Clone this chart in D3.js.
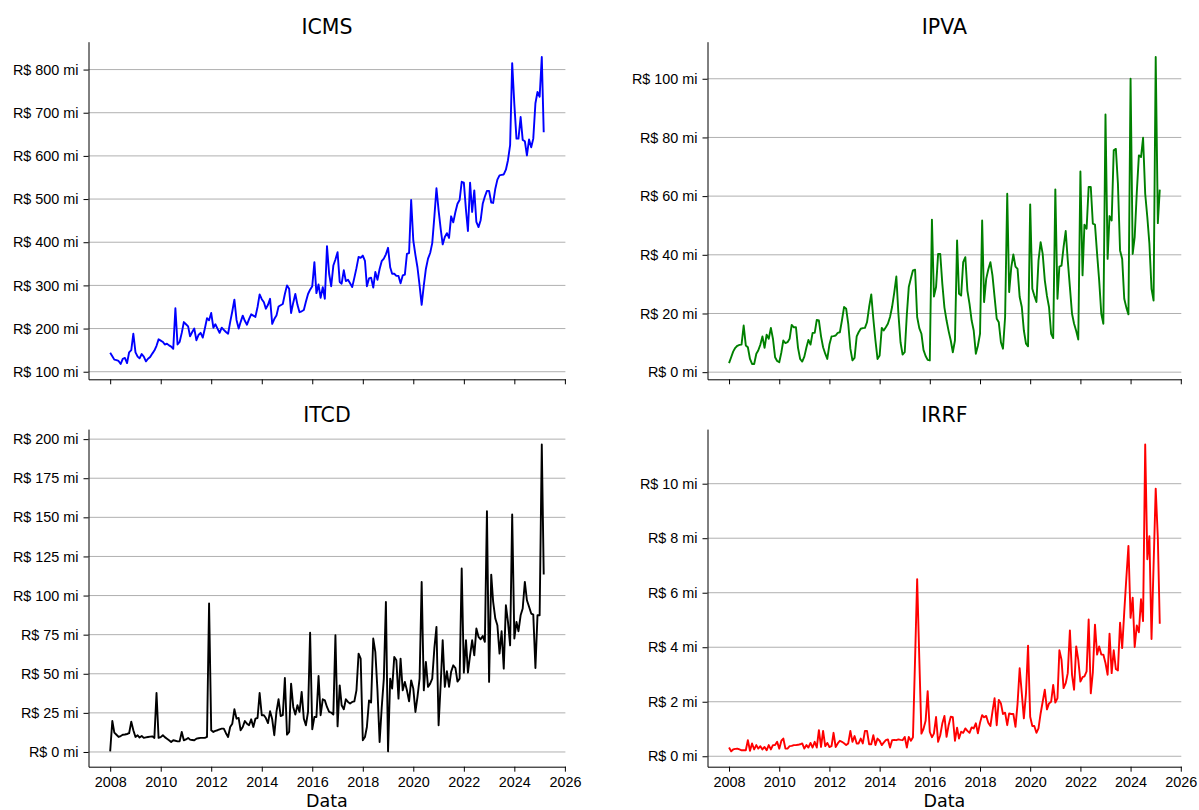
<!DOCTYPE html>
<html>
<head>
<meta charset="utf-8">
<title>Arrecadação mensal</title>
<script src="https://cdn.jsdelivr.net/npm/d3@7"></script>
<style>
    body { margin: 0; background: #fff; }
    svg { display: block; font-family: "DejaVu Sans", sans-serif; }
</style>
</head>
<body>
<div id="chart"></div>
<script>
// Monthly revenue in R$ millions, one value per month from Jan 2008 to Mar 2025
const firstMonth = new Date(2008, 0, 1);

const icms = [
    144, 136, 128, 127, 125, 118, 130, 132, 120, 145, 150, 188,
    145, 135, 131, 141, 135, 124, 130, 134, 142, 149, 160, 175,
    172, 169, 163, 165, 161, 158, 153, 247, 163, 169, 190, 215,
    210, 205, 182, 192, 200, 173, 185, 190, 179, 200, 224, 219,
    236, 202, 210, 200, 190, 202, 197, 192, 188, 215, 240, 267,
    220, 200, 215, 230, 218, 209, 222, 233, 230, 227, 250, 279,
    268, 261, 246, 255, 269, 211, 222, 230, 251, 254, 257, 280,
    300, 292, 236, 260, 280, 255, 238, 240, 243, 262, 280, 290,
    298, 354, 282, 302, 271, 296, 269, 391, 327, 298, 346, 360,
    377, 308, 304, 335, 310, 313, 305, 296, 318, 340, 366, 364,
    369, 357, 298, 316, 318, 295, 331, 313, 338, 356, 362, 372,
    387, 342, 327, 327, 322, 322, 305, 323, 325, 373, 375, 498,
    404, 370, 342, 300, 255, 300, 338, 362, 375, 398, 460, 525,
    474, 430, 395, 412, 421, 410, 460, 446, 470, 489, 498, 540,
    538, 474, 426, 538, 470, 520, 447, 435, 451, 489, 506, 519,
    519, 492, 491, 524, 545, 555, 556, 557, 568, 590, 625, 815,
    720, 640, 640, 690, 637, 634, 601, 638, 620, 640, 722, 748,
    737, 829, 655
];

const ipva = [
    3.1, 5.1, 7.0, 8.3, 9.0, 9.3, 9.4, 15.9, 9.1, 8.5, 4.5, 2.8,
    2.8, 6.3, 7.4, 9.4, 12.2, 8.3, 12.8, 11.4, 15.1, 11.4, 5.1, 3.8,
    3.4, 6.8, 10.8, 9.9, 10.2, 11.4, 16.1, 15.3, 15.3, 8.3, 4.5, 3.6,
    5.3, 8.5, 11.0, 9.4, 13.4, 13.4, 17.8, 17.6, 12.2, 8.5, 6.3, 4.5,
    9.4, 12.2, 12.3, 12.5, 13.4, 13.6, 17.6, 22.2, 21.6, 16.5, 8.0, 4.0,
    4.9, 12.2, 13.6, 14.8, 15.0, 15.1, 17.0, 22.2, 26.5, 18.2, 10.8, 4.5,
    5.7, 15.1, 14.2, 15.3, 16.5, 18.8, 22.2, 27.0, 32.6, 19.9, 10.2, 6.0,
    6.8, 19.7, 29.0, 32.0, 34.7, 34.9, 18.8, 15.0, 13.1, 7.6, 5.5, 4.2,
    4.0, 52.0, 25.8, 29.0, 40.3, 40.3, 30.2, 22.0, 17.6, 14.0, 10.8, 6.8,
    10.8, 44.9, 26.7, 26.1, 37.5, 39.2, 27.8, 23.3, 17.6, 14.2, 6.3, 9.0,
    13.1, 51.7, 23.9, 31.8, 35.0, 37.5, 33.0, 25.6, 18.2, 17.0, 10.2, 8.0,
    18.8, 60.8, 27.3, 35.8, 40.1, 36.0, 35.2, 25.6, 22.2, 14.2, 9.7, 8.8,
    57.2, 28.4, 26.1, 23.9, 38.0, 44.3, 40.3, 31.3, 26.0, 22.2, 13.1, 11.6,
    62.3, 25.0, 36.0, 36.3, 42.6, 48.1, 38.1, 29.0, 19.9, 16.5, 14.0, 11.1,
    68.4, 33.0, 50.3, 48.9, 63.1, 63.1, 50.6, 50.3, 40.3, 31.3, 19.9, 16.5,
    87.8, 38.6, 53.2, 51.7, 75.6, 76.1, 64.2, 41.5, 38.6, 25.0, 22.0, 19.7,
    100.0, 40.3, 46.0, 61.4, 73.9, 73.3, 79.9, 60.8, 52.8, 43.8, 28.4, 24.4,
    107.4, 50.8, 62.2
];

const itcd = [
    0.4, 19.8, 12.4, 11.0, 9.6, 10.2, 11.0, 11.2, 11.5, 12.0, 19.4, 13.9,
    9.6, 10.7, 9.2, 10.2, 9.0, 9.3, 9.6, 9.8, 10.0, 9.0, 37.7, 9.0,
    9.5, 10.7, 9.5, 8.5, 7.5, 6.4, 7.5, 7.2, 6.8, 6.8, 12.8, 7.5,
    8.0, 9.0, 7.9, 7.7, 7.5, 8.5, 8.8, 9.0, 9.0, 9.0, 9.6, 94.9,
    13.9, 12.8, 13.5, 13.9, 14.5, 14.9, 14.9, 12.0, 9.6, 16.0, 18.1, 27.3,
    21.3, 21.7, 13.9, 16.0, 19.8, 18.1, 17.1, 20.9, 16.0, 21.3, 21.7, 37.7,
    23.5, 23.5, 21.7, 18.5, 26.0, 20.9, 10.7, 25.6, 33.7, 23.0, 23.5, 47.3,
    11.1, 12.8, 43.7, 28.8, 23.9, 29.9, 25.6, 38.4, 21.3, 17.1, 25.6, 76.3,
    14.5, 22.4, 22.4, 48.6, 23.5, 33.7, 33.0, 28.8, 25.6, 25.2, 23.9, 74.6,
    16.4, 42.6, 29.9, 27.3, 33.7, 32.0, 31.0, 32.0, 32.4, 39.4, 62.9, 59.7,
    7.5, 9.6, 16.0, 33.0, 31.6, 72.5, 64.0, 39.4, 6.4, 28.1, 46.9, 95.9,
    0.4, 46.9, 40.5, 60.8, 58.6, 34.1, 59.7, 39.4, 44.8, 39.4, 32.4, 45.8,
    40.5, 25.6, 35.0, 46.9, 108.7, 39.4, 57.6, 41.6, 43.7, 46.9, 66.5, 80.0,
    17.1, 44.3, 71.4, 41.6, 51.6, 41.6, 51.2, 55.4, 53.7, 45.0, 46.9, 117.3,
    50.7, 71.4, 50.7, 61.8, 71.4, 61.8, 78.9, 73.6, 72.0, 74.2, 70.4, 153.9,
    44.8, 113.4, 95.9, 85.3, 81.0, 62.9, 77.2, 53.3, 93.8, 83.2, 68.2, 151.8,
    72.5, 83.2, 77.2, 87.4, 91.7, 108.7, 97.0, 92.8, 88.5, 87.8, 53.7, 87.4,
    87.4, 196.6, 113.4
];

const irrf = [
    0.32, 0.18, 0.25, 0.27, 0.28, 0.25, 0.22, 0.22, 0.22, 0.59, 0.20, 0.47,
    0.25, 0.41, 0.28, 0.37, 0.25, 0.34, 0.22, 0.41, 0.25, 0.41, 0.41, 0.53,
    0.28, 0.57, 0.65, 0.28, 0.28, 0.37, 0.38, 0.41, 0.41, 0.42, 0.44, 0.47,
    0.28, 0.41, 0.32, 0.49, 0.32, 0.53, 0.32, 0.96, 0.34, 0.93, 0.37, 0.49,
    0.34, 0.37, 0.86, 0.34, 0.47, 0.57, 0.53, 0.48, 0.41, 0.47, 0.93, 0.53,
    0.74, 0.47, 0.47, 0.65, 0.47, 0.93, 0.93, 0.44, 0.44, 0.77, 0.41, 0.65,
    0.57, 0.41, 0.50, 0.59, 0.62, 0.32, 0.59, 0.60, 0.59, 0.62, 0.60, 0.59,
    0.71, 0.32, 0.71, 0.57, 0.70, 3.60, 6.50, 3.60, 0.83, 1.00, 1.30, 2.39,
    0.89, 0.70, 0.83, 1.44, 0.53, 0.77, 1.20, 1.48, 0.71, 1.14, 1.45, 1.43,
    0.57, 1.05, 0.65, 0.90, 0.86, 1.02, 0.93, 0.86, 1.06, 1.02, 1.21, 0.84,
    1.23, 1.51, 1.43, 1.48, 1.23, 1.11, 1.64, 2.13, 1.14, 2.07, 1.94, 1.55,
    1.60, 1.14, 1.57, 1.55, 1.55, 1.08, 1.92, 3.23, 2.31, 1.39, 2.31, 4.06,
    1.45, 1.11, 1.11, 0.86, 1.02, 1.57, 2.00, 2.44, 1.72, 1.94, 2.00, 2.62,
    1.97, 2.13, 3.89, 3.54, 2.50, 2.68, 3.05, 4.62, 2.99, 2.44, 4.03, 3.54,
    2.74, 2.90, 2.93, 3.11, 5.02, 2.31, 3.08, 4.83, 3.73, 4.03, 3.73, 3.73,
    3.42, 2.99, 4.50, 3.05, 3.89, 3.20, 3.15, 4.90, 3.97, 5.29, 6.56, 7.72,
    5.08, 5.82, 4.01, 4.80, 4.55, 5.76, 4.96, 11.44, 7.23, 8.07, 4.30, 7.00,
    9.82, 8.00, 4.86
];

// Tick values
const yearTicks = [2008, 2010, 2012, 2014, 2016, 2018, 2020, 2022, 2024, 2026];
const icmsTicks = [100, 200, 300, 400, 500, 600, 700, 800];
const ipvaTicks = [0, 20, 40, 60, 80, 100];
const itcdTicks = [0, 25, 50, 75, 100, 125, 150, 175, 200];
const irrfTicks = [0, 2, 4, 6, 8, 10];

const TaxChart = {
    svg: null,
    width: 1199,
    height: 810,
    months: null,
    tickFont: '14.4px',

    // One panel per tax, laid out as a 2x2 grid
    panels: [
        { title: 'ICMS', values: icms, ticks: icmsTicks, color: '#0000ff',
          box: { left: 88.5, right: 565.4, top: 41.7, bottom: 379.3 }, showYears: false },
        { title: 'IPVA', values: ipva, ticks: ipvaTicks, color: '#008000',
          box: { left: 707.5, right: 1181.3, top: 41.7, bottom: 379.3 }, showYears: false },
        { title: 'ITCD', values: itcd, ticks: itcdTicks, color: '#000000',
          box: { left: 88.5, right: 565.4, top: 429.1, bottom: 766.7 }, showYears: true },
        { title: 'IRRF', values: irrf, ticks: irrfTicks, color: '#ff0000',
          box: { left: 707.5, right: 1181.3, top: 429.1, bottom: 766.7 }, showYears: true }
    ],

    init(containerId) {
        this.svg = d3.select(`#${containerId}`).append('svg')
            .attr('width', this.width)
            .attr('height', this.height);

        this.svg.append('rect')
            .attr('width', this.width)
            .attr('height', this.height)
            .attr('fill', '#fff');

        this.months = d3.timeMonth.range(firstMonth, d3.timeMonth.offset(firstMonth, icms.length));

        this.panels.forEach(p => this.drawPanel(p));
    },

    // Pad a domain by 5% on both sides, like matplotlib's autoscale
    padded(extent) {
        const pad = (extent[1] - extent[0]) * 0.05;
        return [extent[0] - pad, extent[1] + pad];
    },

    drawPanel(p) {
        const b = p.box;
        const g = this.svg.append('g');

        const t = this.padded(d3.extent(this.months, d => +d));
        const xScale = d3.scaleTime()
            .domain([new Date(t[0]), new Date(t[1])])
            .range([b.left, b.right]);

        const yScale = d3.scaleLinear()
            .domain(this.padded(d3.extent(p.values)))
            .range([b.bottom, b.top]);

        // Horizontal grid
        g.append('g')
            .selectAll('line')
            .data(p.ticks)
            .join('line')
            .attr('x1', b.left)
            .attr('x2', b.right)
            .attr('y1', d => yScale(d))
            .attr('y2', d => yScale(d))
            .attr('stroke', '#b0b0b0')
            .attr('stroke-width', 1);

        // Series line
        const line = d3.line()
            .x((d, i) => xScale(this.months[i]))
            .y(d => yScale(d));

        g.append('path')
            .datum(p.values)
            .attr('d', line)
            .attr('fill', 'none')
            .attr('stroke', p.color)
            .attr('stroke-width', 1.9)
            .attr('stroke-linejoin', 'round');

        // Y axis
        const yAxis = d3.axisLeft(yScale)
            .tickValues(p.ticks)
            .tickFormat(d => `R$ ${d} mi`)
            .tickSizeInner(5)
            .tickSizeOuter(0)
            .tickPadding(5);

        g.append('g')
            .attr('transform', `translate(${b.left},0)`)
            .call(yAxis)
            .call(s => s.selectAll('text').attr('font-size', this.tickFont).attr('fill', '#000'));

        // X axis (labels only on the bottom row)
        const xAxis = d3.axisBottom(xScale)
            .tickValues(yearTicks.map(y => new Date(y, 0, 1)))
            .tickFormat(p.showYears ? d3.timeFormat('%Y') : '')
            .tickSizeInner(5)
            .tickSizeOuter(0)
            .tickPadding(5);

        g.append('g')
            .attr('transform', `translate(0,${b.bottom})`)
            .call(xAxis)
            .call(s => s.selectAll('text').attr('font-size', this.tickFont).attr('fill', '#000'));

        g.selectAll('.domain, .tick line')
            .attr('stroke', '#000')
            .attr('stroke-width', 1);

        // Title
        g.append('text')
            .attr('x', (b.left + b.right) / 2)
            .attr('y', b.top - 7.6)
            .attr('text-anchor', 'middle')
            .attr('font-size', '20.5px')
            .attr('fill', '#000')
            .text(p.title);

        if (p.showYears) {
            g.append('text')
                .attr('x', (b.left + b.right) / 2)
                .attr('y', 807)
                .attr('text-anchor', 'middle')
                .attr('font-size', '17.5px')
                .attr('fill', '#000')
                .text('Data');
        }
    }
};

TaxChart.init('chart');
</script>
</body>
</html>
